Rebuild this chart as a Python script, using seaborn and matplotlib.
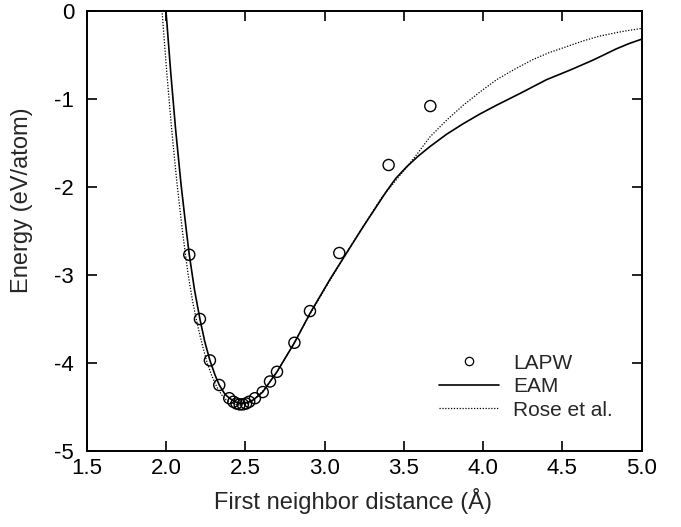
import numpy as np
import pandas as pd
import matplotlib
matplotlib.use("Agg")
import matplotlib.pyplot as plt
import seaborn as sns
from matplotlib.lines import Line2D

# LAPW data points
lapw_x = [2.147, 2.214, 2.277, 2.336, 2.399, 2.425, 2.445, 2.465, 2.485, 2.505, 2.525,
          2.561, 2.61, 2.656, 2.70, 2.81, 2.908, 3.093, 3.404, 3.667]
lapw_y = [-2.77, -3.50, -3.97, -4.25, -4.40, -4.44, -4.46, -4.47, -4.47, -4.46, -4.44,
          -4.40, -4.33, -4.21, -4.10, -3.77, -3.41, -2.75, -1.75, -1.08]

# EAM curve
eam_x = [2.0, 2.03, 2.061, 2.095, 2.13, 2.147, 2.18, 2.214, 2.245, 2.277, 2.31, 2.336,
         2.37, 2.40, 2.435, 2.47, 2.51, 2.55, 2.61, 2.70, 2.81, 2.91, 3.034, 3.093,
         3.244, 3.39, 3.45, 3.518, 3.59, 3.665, 3.77, 3.875, 3.98, 4.085, 4.24, 4.40,
         4.55, 4.694, 4.84, 4.92, 5.0]
eam_y = [0.0, -0.70, -1.35, -1.97, -2.52, -2.77, -3.17, -3.50, -3.76, -3.97, -4.14, -4.25,
         -4.35, -4.40, -4.44, -4.46, -4.45, -4.42, -4.33, -4.10, -3.77, -3.43, -3.05, -2.88,
         -2.45, -2.05, -1.90, -1.77, -1.65, -1.54, -1.40, -1.28, -1.17, -1.07, -0.93, -0.78,
         -0.67, -0.557, -0.43, -0.37, -0.32]

# Rose et al. universal binding curve
rose_x = [1.96, 1.975, 2.005, 2.036, 2.07, 2.105, 2.14, 2.17, 2.20, 2.23, 2.26, 2.29, 2.32,
          2.35, 2.38, 2.41, 2.44, 2.47, 2.50, 2.53, 2.56, 2.62, 2.70, 2.80, 2.90, 3.034,
          3.20, 3.36, 3.52, 3.59, 3.665, 3.77, 3.875, 3.98, 4.085, 4.20, 4.316, 4.42,
          4.526, 4.63, 4.736, 4.87, 5.0]
rose_y = [0.30, 0.0, -0.70, -1.35, -1.97, -2.52, -3.0, -3.32, -3.58, -3.80, -4.0, -4.15, -4.27,
          -4.36, -4.42, -4.45, -4.47, -4.48, -4.47, -4.45, -4.41, -4.30, -4.10, -3.80, -3.47, -3.06,
          -2.57, -2.12, -1.77, -1.61, -1.43, -1.24, -1.07, -0.92, -0.78, -0.66, -0.55, -0.47,
          -0.405, -0.34, -0.284, -0.235, -0.197]

x_ticks = [1.5, 2.0, 2.5, 3.0, 3.5, 4.0, 4.5, 5.0]
y_ticks = [0, -1, -2, -3, -4, -5]

sns.set_style("ticks")
plt.rcParams["font.family"] = ["Liberation Sans", "DejaVu Sans"]

fig = plt.figure(figsize=(6.81, 5.27), dpi=100)
ax = fig.add_axes([0.1273, 0.1442, 0.815, 0.8349])

df_eam = pd.DataFrame({"x": eam_x, "y": eam_y})
df_rose = pd.DataFrame({"x": rose_x, "y": rose_y})
df_lapw = pd.DataFrame({"x": lapw_x, "y": lapw_y})

sns.lineplot(data=df_rose, x="x", y="y", ax=ax, sort=False, color="black",
             linewidth=0.9, linestyle=(0, (1, 1.3)))
sns.lineplot(data=df_eam, x="x", y="y", ax=ax, sort=False, color="black", linewidth=1.2)
sns.scatterplot(data=df_lapw, x="x", y="y", ax=ax, marker="o", s=64,
                facecolor="none", edgecolor="black", linewidth=1.0, zorder=5)

ax.set_xlim(1.5, 5.0)
ax.set_ylim(-5, 0)
ax.set_xticks(x_ticks)
ax.set_xticklabels([f"{v:.1f}" for v in x_ticks])
ax.set_yticks(y_ticks)
ax.set_yticklabels([f"{v}" for v in y_ticks])

ax.tick_params(direction="in", length=7, width=1.2, top=True, right=True,
               labelsize=16, colors="black")
ax.tick_params(axis="x", pad=5)
ax.tick_params(axis="y", pad=9)
for s in ax.spines.values():
    s.set_linewidth(1.4)
    s.set_color("black")

ax.set_xlabel("First neighbor distance (Å)", fontsize=17, labelpad=4)
ax.set_ylabel("Energy (eV/atom)", fontsize=17, labelpad=8)
ax.xaxis.set_label_coords(0.48, -0.085)
ax.yaxis.set_label_coords(-0.097, 0.57)

handles = [
    Line2D([], [], marker="o", linestyle="none", markerfacecolor="none",
           markeredgecolor="black", markersize=6, markeredgewidth=0.9),
    Line2D([], [], color="black", linewidth=1.2),
    Line2D([], [], color="black", linewidth=0.9, linestyle=(0, (1, 1.3))),
]
ax.legend(handles, ["LAPW", "EAM", "Rose et al."], loc="upper left",
          bbox_to_anchor=(0.635, 0.221), frameon=False, fontsize=15,
          handlelength=2.85, handletextpad=0.7, labelspacing=0.21, borderpad=0,
          borderaxespad=0)

fig.savefig("out.png", dpi=100)
